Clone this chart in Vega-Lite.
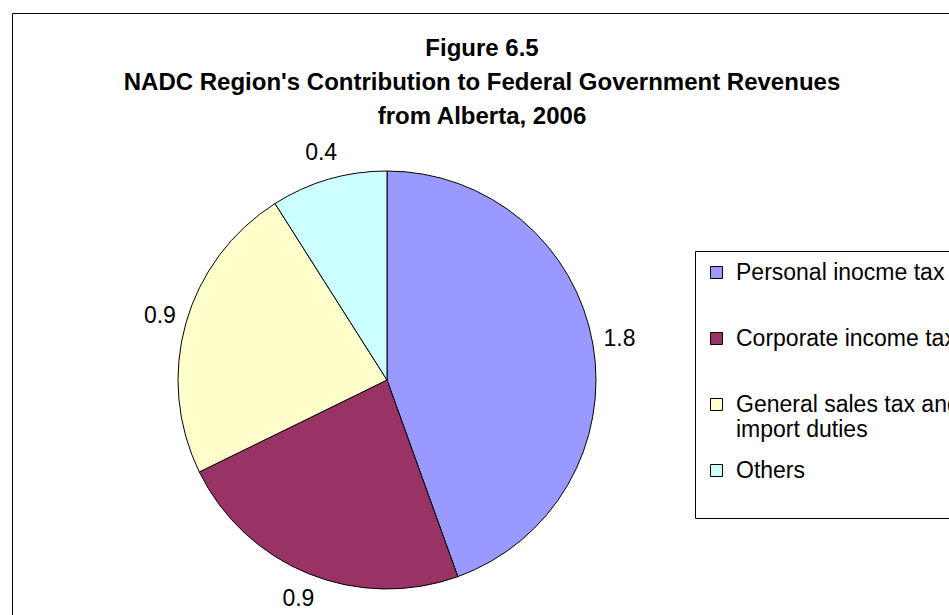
{
  "$schema": "https://vega.github.io/schema/vega-lite/v6.json",
  "autosize": {"type": "none"},
  "padding": {"left": 12, "top": 13, "right": 0, "bottom": 0},
  "width": 940,
  "height": 620,
  "background": "white",
  "config": {
    "view": {"stroke": "#000", "strokeWidth": 1},
    "font": "Liberation Sans"
  },
  "title": {
    "text": ["Figure 6.5", "NADC Region's Contribution to Federal Government Revenues", "from Alberta, 2006"],
    "anchor": "middle",
    "frame": "group",
    "font": "Liberation Sans",
    "fontSize": 24,
    "fontWeight": "bold",
    "color": "#000",
    "lineHeight": 34,
    "baseline": "top",
    "offset": -116
  },
  "data": {
    "values": [
      {"category": "Personal inocme tax", "value": 1.78, "order": 1},
      {"category": "Corporate income tax", "value": 0.93, "order": 2},
      {"category": "General sales tax and import duties", "value": 0.93, "order": 3},
      {"category": "Others", "value": 0.36, "order": 4}
    ]
  },
  "layer": [
    {
      "mark": {"type": "arc", "outerRadius": 209, "stroke": "#000", "strokeWidth": 1},
      "encoding": {
        "x": {"value": 375},
        "y": {"value": 367},
        "theta": {"field": "value", "type": "quantitative", "stack": true},
        "order": {"field": "order", "type": "quantitative"},
        "color": {
          "field": "category",
          "type": "nominal",
          "sort": ["Personal inocme tax", "Corporate income tax", "General sales tax and import duties", "Others"],
          "scale": {
            "domain": ["Personal inocme tax", "Corporate income tax", "General sales tax and import duties", "Others"],
            "range": ["#9999FF", "#993366", "#FFFFCC", "#CCFFFF"]
          },
          "legend": {
            "orient": "none",
            "legendX": 683,
            "legendY": 238,
            "title": null,
            "symbolType": "square",
            "symbolSize": 144,
            "symbolStrokeColor": "#000",
            "symbolStrokeWidth": 1,
            "labelFont": "Liberation Sans",
            "labelFontSize": 23,
            "labelColor": "#000",
            "labelOffset": 8,
            "labelLimit": 400,
            "labelExpr": "datum.label == 'General sales tax and import duties' ? ['General sales tax and', 'import duties'] : [datum.label, ' ']",
            "rowPadding": 17,
            "padding": 10,
            "strokeColor": "#000",
            "fillColor": "white"
          }
        }
      }
    },
    {
      "mark": {"type": "text", "radius": 236, "font": "Liberation Sans", "fontSize": 23, "color": "#000", "align": "center", "baseline": "middle"},
      "encoding": {
        "x": {"value": 375},
        "y": {"value": 367},
        "theta": {"field": "value", "type": "quantitative", "stack": true},
        "order": {"field": "order", "type": "quantitative"},
        "text": {"field": "value", "type": "quantitative", "format": ".1f"}
      }
    }
  ]
}
